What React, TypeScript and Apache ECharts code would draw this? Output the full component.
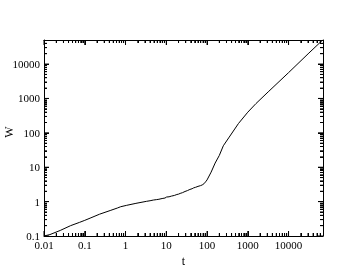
import React, { useEffect, useRef } from "react";
import * as echarts from "echarts";

// time t and quantity W (log-log plot)
const T = [
  0.01, 0.014, 0.025, 0.045, 0.075, 0.1, 0.135, 0.23, 0.42, 0.63, 0.76, 1.07,
  1.8, 3.3, 4.0, 4.8, 5.7, 6.6, 7.9, 9.3, 10.2, 11.7, 13.5, 15.8, 18.2, 20,
  21.9, 25, 28.8, 33, 38, 43, 47, 52.5, 60, 69, 76, 84, 92, 100, 126, 158, 200,
  251, 339, 589, 1000, 1585, 3162, 10000, 31620, 67600,
];
const W = [
  0.1, 0.11, 0.145, 0.2, 0.25, 0.285, 0.33, 0.43, 0.55, 0.65, 0.71, 0.78,
  0.89, 1.02, 1.06, 1.11, 1.14, 1.17, 1.23, 1.27, 1.36, 1.38, 1.45, 1.51, 1.61,
  1.65, 1.73, 1.82, 1.97, 2.09, 2.26, 2.37, 2.51, 2.61, 2.77, 2.91, 3.05, 3.3, 3.75,
  4.27, 7.2, 13.2, 22, 42, 71, 186, 398, 708, 1550, 5620, 20900, 49000,
];

const X_TICKS = ["0.01", "0.1", "1", "10", "100", "1000", "10000"];
const Y_TICKS = ["0.1", "1", "10", "100", "1000", "10000"];
const X_RANGE = [0.01, 70000];
const Y_RANGE = [0.1, 50000];

const FONT = "Liberation Serif";
const INK = "#000";

export default function App() {
  const ref = useRef<HTMLDivElement>(null);
  useEffect(() => {
    if (!ref.current) return;
    const chart = echarts.init(ref.current, undefined, { renderer: "svg" });
    const lg = Math.log10;
    const xmin = lg(X_RANGE[0]);
    const xmax = lg(X_RANGE[1]);
    const ymin = lg(Y_RANGE[0]);
    const ymax = lg(Y_RANGE[1]);

    const line = T.map((t, i) => [lg(t), lg(W[i])]);

    const major = (labels: string[]) => labels.map((l) => lg(Number(l)));
    const minor = (labels: string[], lo: number, hi: number) => {
      const out: number[] = [];
      labels.forEach((lab) => {
        const d = Number(lab);
        for (let k = 2; k <= 9; k++) {
          const v = lg(k * d);
          if (v > lo && v < hi - 1e-6) out.push(v);
        }
      });
      return out;
    };
    const fmt = (labels: string[]) => (v: number) => {
      const hit = labels.find((l) => Math.abs(lg(Number(l)) - v) < 1e-6);
      return hit ?? "";
    };

    const XMAJ = major(X_TICKS);
    const XMIN = minor(X_TICKS, xmin, xmax);
    const YMAJ = major(Y_TICKS);
    const YMIN = minor(Y_TICKS, ymin, ymax);

    const base = {
      type: "value" as const,
      splitLine: { show: false },
      interval: 1,
    };
    const lineOn = { show: true, onZero: false, lineStyle: { color: INK, width: 1 } };
    const lineOff = { show: false, onZero: false };
    const tick = (vals: number[], len: number) => ({
      show: true,
      inside: true,
      length: len,
      customValues: vals,
      lineStyle: { color: INK, width: 1 },
    });
    const noLabel = { show: false };

    const xAxis = (position: string, isMajor: boolean, extra: any = {}) => ({
      ...base,
      min: xmin,
      max: xmax,
      position,
      axisLine: isMajor ? lineOn : lineOff,
      axisTick: isMajor ? tick(XMAJ, 5) : tick(XMIN, 3),
      axisLabel: noLabel,
      ...extra,
    });
    const yAxis = (position: string, isMajor: boolean, extra: any = {}) => ({
      ...base,
      min: ymin,
      max: ymax,
      position,
      axisLine: isMajor ? lineOn : lineOff,
      axisTick: isMajor ? tick(YMAJ, 5) : tick(YMIN, 3),
      axisLabel: noLabel,
      ...extra,
    });

    // tick marks as small rect symbols, positioned through the axis scales
    const tickSeries = (data: number[][], size: number[], offset: number[]) => ({
      type: "scatter",
      data,
      symbol: "rect",
      symbolSize: size,
      symbolOffset: offset,
      clip: false,
      silent: true,
      z: 5,
      itemStyle: { color: INK, opacity: 1 },
      xAxisIndex: 0,
      yAxisIndex: 0,
    });

    chart.setOption({
      animation: false,
      grid: { left: 44, right: 36, top: 40, bottom: 42 },
      xAxis: [
        xAxis("bottom", true, {
          name: "t",
          nameLocation: "middle",
          nameGap: 17,
          nameTextStyle: { fontFamily: FONT, fontSize: 12, color: INK },
          axisLabel: {
            show: true,
            customValues: XMAJ,
            formatter: fmt(X_TICKS),
            fontFamily: FONT,
            fontSize: 11,
            color: INK,
            margin: 3,
          },
        }),
        xAxis("top", true),
        xAxis("bottom", false),
        xAxis("top", false),
      ],
      yAxis: [
        yAxis("left", true, {
          axisLabel: {
            show: true,
            customValues: YMAJ,
            formatter: fmt(Y_TICKS),
            fontFamily: FONT,
            fontSize: 11,
            color: INK,
            margin: 4,
          },
        }),
        yAxis("right", true),
        yAxis("left", false),
        yAxis("right", false),
      ],
      graphic: [
        {
          type: "text",
          x: 9,
          y: 132,
          rotation: Math.PI / 2,
          style: {
            text: "W",
            fontFamily: FONT,
            fontSize: 12,
            fill: INK,
            textAlign: "center",
            textVerticalAlign: "middle",
          },
        },
      ],
      series: [
        {
          type: "line",
          data: line,
          showSymbol: false,
          symbol: "none",
          lineStyle: { color: INK, width: 1 },
          xAxisIndex: 0,
          yAxisIndex: 0,
        },
        tickSeries(XMAJ.map((v) => [v, ymin]), [1, 5], [0, -2.5]),
        tickSeries(XMAJ.map((v) => [v, ymax]), [1, 5], [0, 2.5]),
        tickSeries(XMIN.map((v) => [v, ymin]), [1, 3], [0, -1.5]),
        tickSeries(XMIN.map((v) => [v, ymax]), [1, 3], [0, 1.5]),
        tickSeries(YMAJ.map((v) => [xmin, v]), [5, 1], [2.5, 0]),
        tickSeries(YMAJ.map((v) => [xmax, v]), [5, 1], [-2.5, 0]),
        tickSeries(YMIN.map((v) => [xmin, v]), [3, 1], [1.5, 0]),
        tickSeries(YMIN.map((v) => [xmax, v]), [3, 1], [-1.5, 0]),
      ],
    });

    return () => chart.dispose();
  }, []);
  return <div ref={ref} style={{ position: "fixed", left: 0, top: 0, width: 359, height: 278 }} />;
}
